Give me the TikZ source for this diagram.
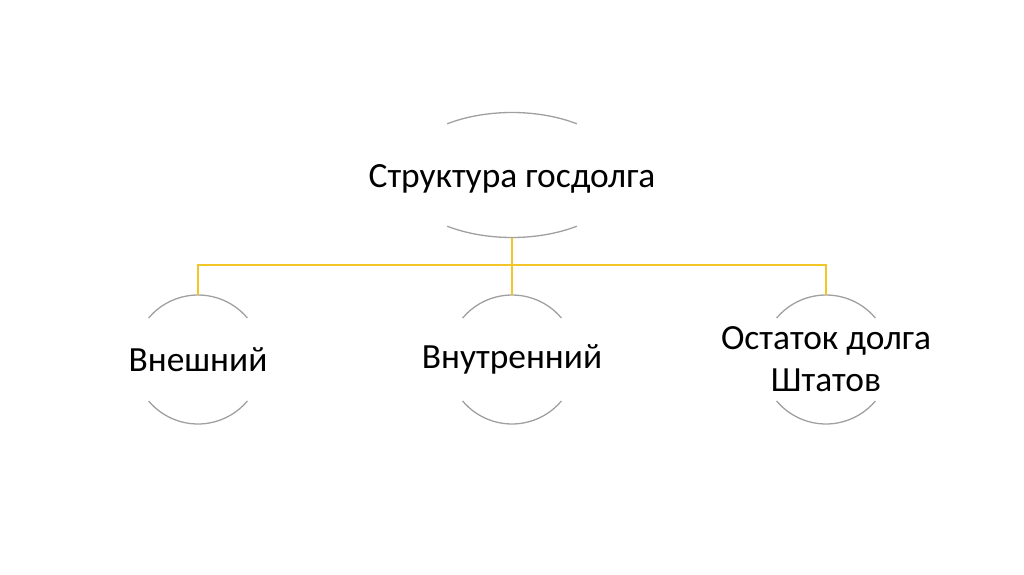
\documentclass[tikz,border=0pt]{standalone}
\usepackage{fontspec}
\setmainfont{Carlito}
\usetikzlibrary{shapes.geometric}
\definecolor{linkgold}{RGB}{242,198,40}
\definecolor{rimgray}{RGB}{160,160,160}
\begin{document}
\begin{tikzpicture}[x=1pt, y=1pt,
    lbl/.style={font=\fontsize{35.4}{42}\selectfont, align=center, inner sep=0pt},
    rim/.style={draw=rimgray, line width=1.3pt},
    link/.style={draw=linkgold, line width=1.8pt}]
        \useasboundingbox (0,0) rectangle (1024,574);
        % root with its two arcs
        \node[ellipse, minimum width=226, minimum height=125, inner sep=0pt,
              label={[lbl, yshift=-4]center:Структура госдолга}] (root) at (512,399) {};
        \draw[rim] ([shift={(55:113 and 62.5)}]root.center) arc[start angle=55, end angle=125, x radius=113, y radius=62.5];
        \draw[rim] ([shift={(235:113 and 62.5)}]root.center) arc[start angle=235, end angle=305, x radius=113, y radius=62.5];
        % the three parts of the debt
        \foreach \name/\x/\txt in {ext/198/{Внешний}, int/512/{Внутренний}, rest/826/{Остаток долга\\Штатов}} {
            \node[circle, minimum size=129, inner sep=0pt, label={[lbl]center:\txt}] (\name) at (\x,214.5) {};
            \draw[rim] ([shift={(40:64.5)}]\name.center) arc[start angle=40, end angle=140, radius=64.5];
            \draw[rim] ([shift={(220:64.5)}]\name.center) arc[start angle=220, end angle=320, radius=64.5];
            \draw[link] (root.south) -- ++(0,-27) -| (\name.north);
        }
    \end{tikzpicture}
\end{document}
